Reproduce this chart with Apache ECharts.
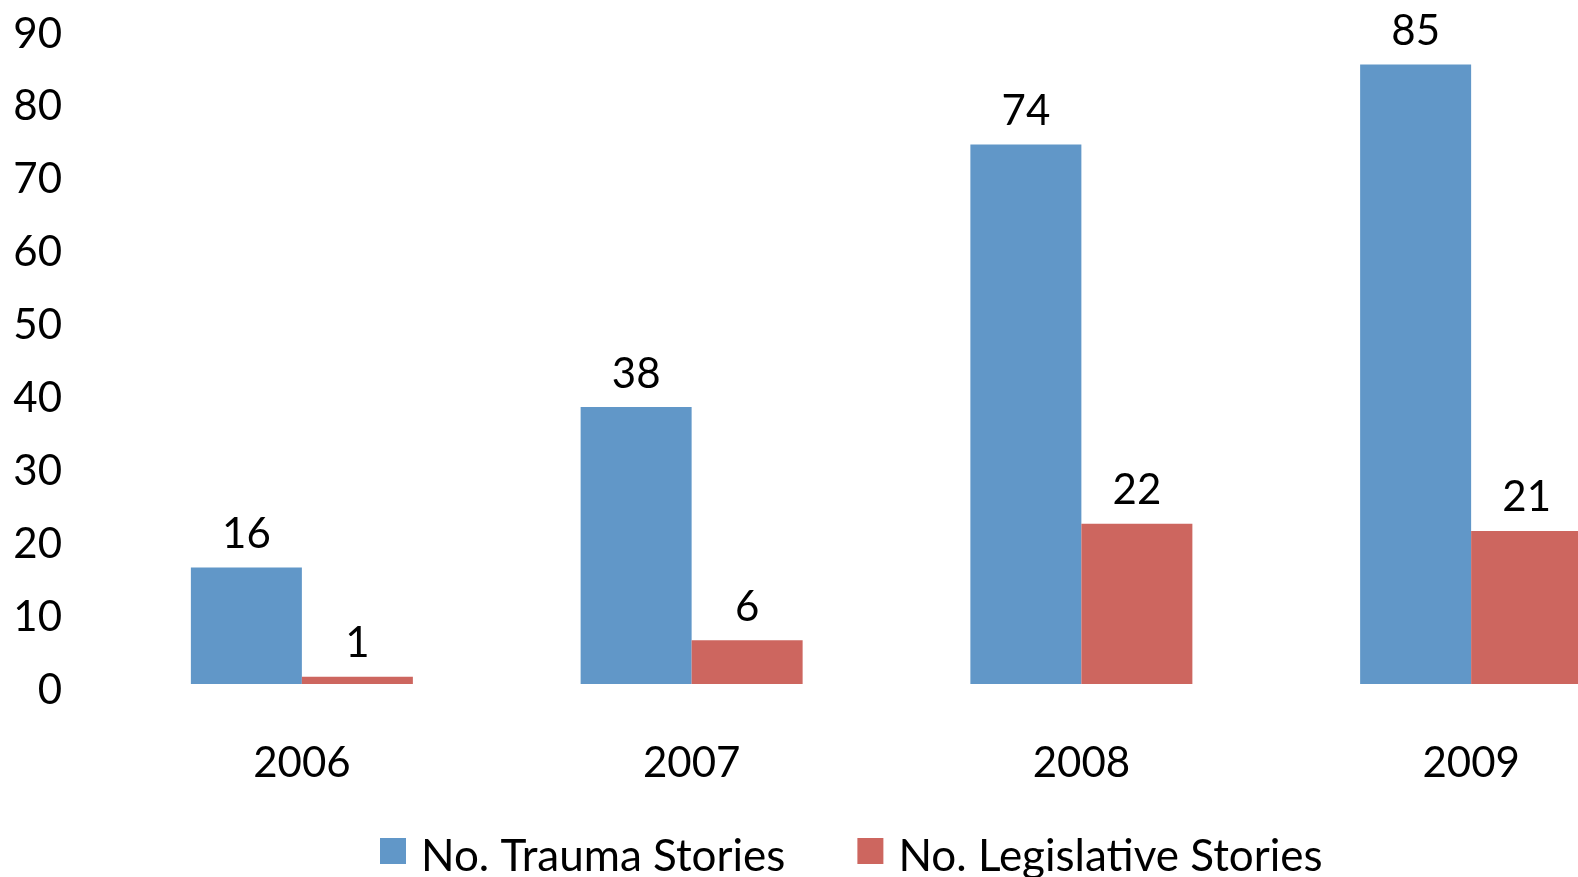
<!DOCTYPE html>
<html>
<head>
<meta charset="utf-8">
<script src="https://cdn.jsdelivr.net/npm/echarts@6/dist/echarts.min.js"></script>
<style>
html,body{margin:0;padding:0;background:#fff;overflow:hidden;}
#chart{width:1666px;height:877px;}
</style>
</head>
<body>
<div id="chart"></div>
<script>
const categories = ['2006', '2007', '2008', '2009'];
const traumaStories = [16, 38, 74, 85];
const legislativeStories = [1, 6, 22, 21];
const seriesNames = ['No. Trauma Stories', 'No. Legislative Stories'];
const yTicks = { min: 0, max: 90, interval: 10 };

const FONT = 'Lato, "Open Sans", sans-serif';
const chart = echarts.init(document.getElementById('chart'));
chart.setOption({
  animation: false,
  backgroundColor: '#ffffff',
  textStyle: { fontFamily: FONT, color: '#000' },
  grid: { left: 107, right: 0, top: 28, bottom: 193, containLabel: false },
  legend: {
    left: 380, top: 835, padding: 0,
    itemWidth: 26, itemHeight: 26, itemGap: 72,
    icon: 'rect',
    data: seriesNames,
    formatter: '{a|{name}}',
    textStyle: {
      fontFamily: FONT, fontSize: 44, color: '#000', padding: [0, 0, 0, 10],
      rich: { a: { fontFamily: FONT, fontSize: 44, color: '#000', padding: [12, 0, 0, 0] } }
    }
  },
  xAxis: {
    type: 'category',
    data: categories,
    axisLine: { show: false },
    axisTick: { show: false },
    axisLabel: { fontFamily: FONT, fontSize: 42, color: '#000', margin: 58 }
  },
  yAxis: {
    type: 'value',
    min: yTicks.min, max: yTicks.max, interval: yTicks.interval,
    axisLine: { show: false },
    axisTick: { show: false },
    splitLine: { show: false },
    axisLabel: { fontFamily: FONT, fontSize: 42, color: '#000', margin: 45, verticalAlign: 'top', lineHeight: 12 }
  },
  series: [
    {
      name: seriesNames[0], type: 'bar', data: traumaStories,
      barWidth: 111, barGap: '0%',
      itemStyle: { color: '#6197C8' },
      label: { show: true, position: 'top', distance: 12, fontFamily: FONT, fontSize: 42, color: '#000' }
    },
    {
      name: seriesNames[1], type: 'bar', data: legislativeStories,
      barWidth: 111, barGap: '0%',
      itemStyle: { color: '#CD665F' },
      label: { show: true, position: 'top', distance: 12, fontFamily: FONT, fontSize: 42, color: '#000' }
    }
  ]
});
</script>
</body>
</html>
